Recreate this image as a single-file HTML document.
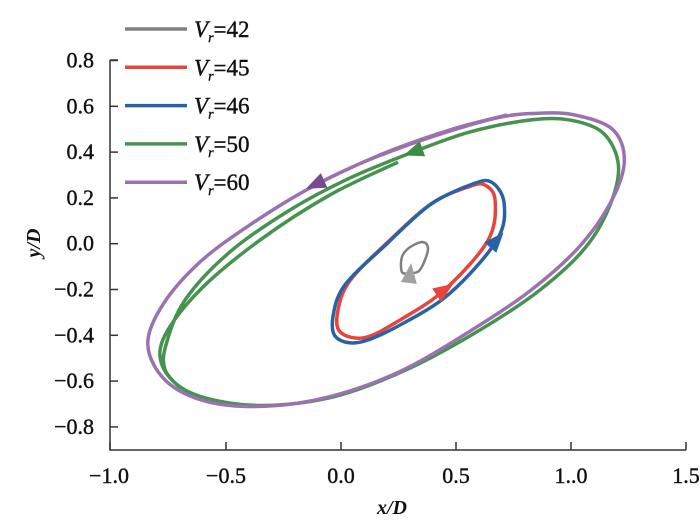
<!DOCTYPE html>
<html><head><meta charset="utf-8"><style>
body{margin:0;background:#fff}
svg{display:block;font-family:"Liberation Serif",serif}
</style></head><body>
<svg id="c" width="700" height="528" viewBox="0 0 700 528"></svg>
<script>
const xTicks=[-1.0,-0.5,0.0,0.5,1.0,1.5];
const xTickLabels=["\u22121.0","\u22120.5","0.0","0.5","1..0","1.5"];
const yTicks=[0.8,0.6,0.4,0.2,0.0,-0.2,-0.4,-0.6,-0.8];
const yTickLabels=["0.8","0.6","0.4","0.2","0.0","\u22120.2","\u22120.4","\u22120.6","\u22120.8"];
const seriesNames=["42","45","46","50","60"];
const seriesColors=["#808080","#e8443a","#2a62a6","#45934f","#9a72b0"];
const v42x=[0.265,0.300,0.357,0.378,0.343,0.300,0.265];
const v42y=[-0.058,-0.015,0.007,-0.027,-0.115,-0.128,-0.124];
const v45x=[0.626,0.670,0.640,0.452,0.257,0.104,-0.004,-0.013,0.040,0.213,0.396,0.560];
const v45y=[0.256,0.190,0.016,-0.200,-0.333,-0.410,-0.385,-0.290,-0.160,0.016,0.177,0.250];
const v46x=[0.652,0.709,0.678,0.474,0.257,0.083,-0.020,-0.035,0.017,0.200,0.387,0.560];
const v46y=[0.270,0.178,0.016,-0.216,-0.355,-0.430,-0.410,-0.320,-0.180,0.000,0.170,0.256];
const v50x=[0.248,-0.048,-0.352,-0.613,-0.765,-0.778,-0.678,-0.483,-0.265,-0.004,0.300,0.604,0.865,1.061,1.170,1.206,1.140,0.996,0.822,0.561,0.313,0.039,-0.222,-0.483,-0.678,-0.761,-0.765,-0.700];
const v50y=[0.356,0.213,0.016,-0.202,-0.399,-0.530,-0.639,-0.696,-0.704,-0.661,-0.543,-0.377,-0.202,-0.019,0.169,0.344,0.483,0.540,0.540,0.488,0.400,0.287,0.147,-0.036,-0.246,-0.442,-0.550,-0.630];
const v60x=[0.722,0.474,0.170,-0.135,-0.396,-0.613,-0.775,-0.840,-0.760,-0.580,-0.330,-0.048,0.257,0.561,0.822,1.039,1.178,1.232,1.180,1.017,0.865,0.691,0.430,0.126,-0.113];
const v60y=[0.562,0.497,0.388,0.243,0.082,-0.080,-0.267,-0.442,-0.600,-0.690,-0.710,-0.668,-0.558,-0.382,-0.206,-0.010,0.191,0.365,0.500,0.562,0.570,0.552,0.478,0.368,0.258];

const NS="http://www.w3.org/2000/svg";
const svg=document.getElementById('c');
const X=v=>341+v*230;
const Y=v=>243.7-v*229;
function mk(t,a,p){const e=document.createElementNS(NS,t);for(const k in a)e.setAttribute(k,a[k]);(p||svg).appendChild(e);return e;}
function smooth(xs,ys,closed){
  const P=xs.map((x,i)=>[X(x),Y(ys[i])]);const n=P.length;
  const g=i=>closed?P[(i+n)%n]:P[Math.max(0,Math.min(n-1,i))];
  let d=`M${P[0][0]},${P[0][1]}`;const m=closed?n:n-1;
  for(let i=0;i<m;i++){const p0=g(i-1),p1=g(i),p2=g(i+1),p3=g(i+2);
    d+=`C${p1[0]+(p2[0]-p0[0])/6},${p1[1]+(p2[1]-p0[1])/6} ${p2[0]-(p3[0]-p1[0])/6},${p2[1]-(p3[1]-p1[1])/6} ${p2[0]},${p2[1]}`;}
  return d+(closed?'Z':'');
}
function arrow(xs,ys,c,i,j,col,name){
  const a=Math.atan2(Y(ys[j])-Y(ys[i]),X(xs[j])-X(xs[i]));const L=20,W=8;
  const cx=X(xs[c]),cy=Y(ys[c]);
  const tx=cx+Math.cos(a)*L/2,ty=cy+Math.sin(a)*L/2,bx=cx-Math.cos(a)*L/2,by=cy-Math.sin(a)*L/2;
  const el=mk('polygon',{points:`${tx},${ty} ${bx-Math.sin(a)*W},${by+Math.cos(a)*W} ${bx+Math.sin(a)*W},${by-Math.cos(a)*W}`,fill:col});
  
  
}
const ax=mk('path',{d:`M110,60H118M110,60V450H686`,stroke:'#333',fill:'none','stroke-width':1.5});


yTicks.forEach((v,i)=>{
  const t=mk('line',{x1:110,x2:118,y1:Y(v),y2:Y(v),stroke:'#333','stroke-width':1.5});
  
  
  const l=mk('text',{x:94,y:Y(v)+7,'text-anchor':'end','font-size':22,'stroke':'#111','stroke-width':0.4,fill:'#111'});l.textContent=yTickLabels[i];
  
  
});
xTicks.forEach((v,i)=>{
  const t=mk('line',{x1:X(v)-(i==0?1:0),x2:X(v)-(i==0?1:0),y1:442,y2:450,stroke:'#333','stroke-width':1.5});
  
  
  const l=mk('text',{x:X(v)+(i==0?-2:0),y:483,'text-anchor':'middle','font-size':22,'stroke':'#111','stroke-width':0.4,fill:'#111'});l.textContent=xTickLabels[i];
  
  
});
const xt=mk('text',{x:392,y:514,'text-anchor':'middle','font-size':20,'font-style':'italic','font-weight':'bold',fill:'#111'});xt.textContent='x/D';


const yt=mk('text',{x:0,y:0,'text-anchor':'middle','font-size':20,'font-style':'italic','font-weight':'bold',fill:'#111',transform:'translate(40,243) rotate(-90)'});yt.textContent='y/D';


const S=[[v42x,v42y,true],[v45x,v45y,true],[v46x,v46y,true],[v50x,v50y,false],[v60x,v60y,false]];
S.forEach((s,k)=>{
  const p=mk('path',{d:smooth(s[0],s[1],s[2]),stroke:seriesColors[k],fill:'none','stroke-width':k==0?2.5:3.5,'stroke-linejoin':'round'});
  
  
});
arrow(v42x,v42y,5,4,2,'#a0a0a0','arrow-vr42');
arrow(v45x,v45y,3,4,3,'#e8443a','arrow-vr45');
arrow(v46x,v46y,2,3,2,'#2a62a6','arrow-vr46');
arrow(v50x,v50y,20,19,20,'#3f8a47','arrow-vr50');
arrow(v60x,v60y,24,23,24,'#7a4a90','arrow-vr60');
seriesNames.forEach((n,k)=>{
  const y=29+k*38.3;
  const g=mk('g',{});
  
  
  mk('line',{x1:125,x2:187,y1:y,y2:y,stroke:seriesColors[k],'stroke-width':3.5},g);
  const t=mk('text',{x:194,y:y+8,'font-size':23,'stroke':'#111','stroke-width':0.4,fill:'#111'},g);
  t.innerHTML='<tspan font-style="italic">V</tspan><tspan font-style="italic" font-size="14" dy="5">r</tspan><tspan dy="-5">=' + n + '</tspan>';
});
</script>
</body></html>
